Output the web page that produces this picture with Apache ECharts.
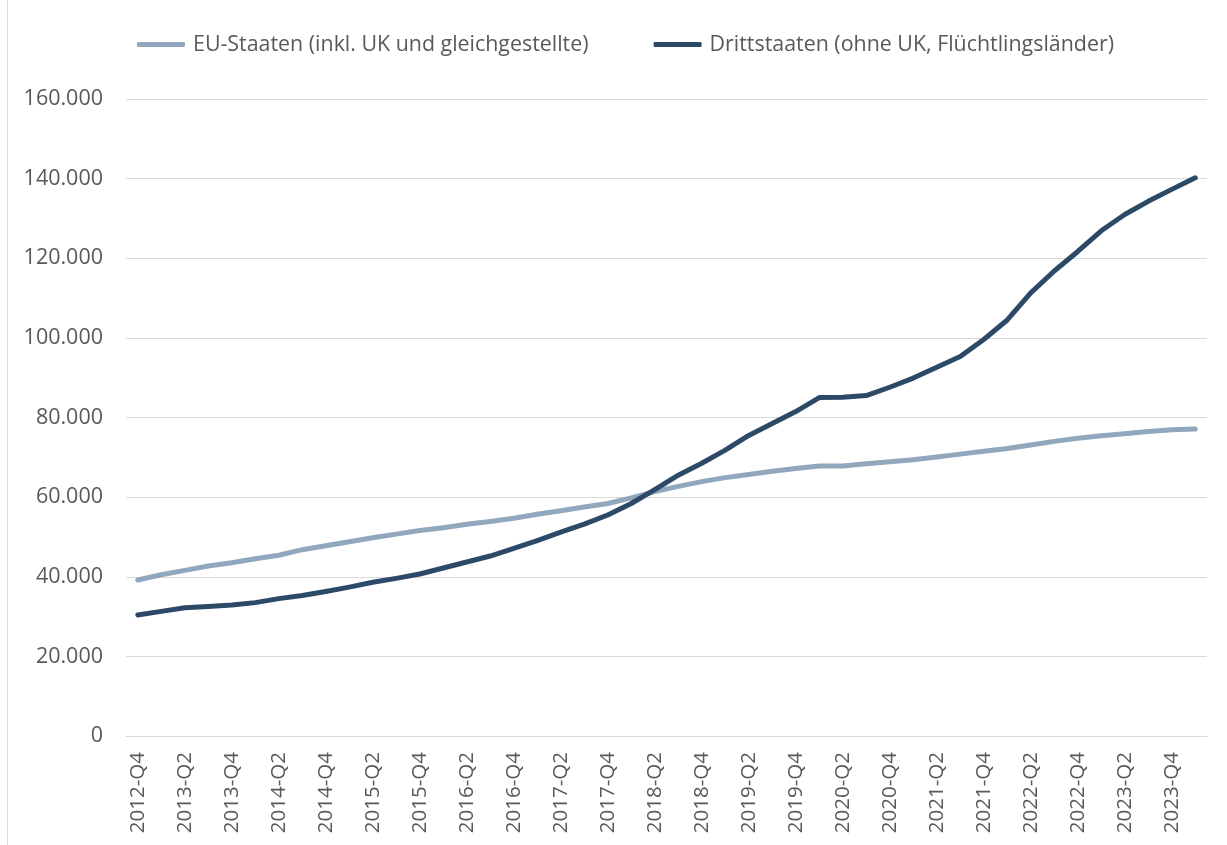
<!DOCTYPE html>
<html>
<head>
<meta charset="utf-8">
<script src="https://cdn.jsdelivr.net/npm/echarts@6/dist/echarts.min.js"></script>
<style>html,body{margin:0;padding:0;background:#fff;}#c{width:1227px;height:845px;}</style>
</head>
<body>
<div id="c"></div>
<script>
const categories = (function(){
  const out = ['2012-Q4'];
  for (let y = 2013; y <= 2023; y++) for (let q = 1; q <= 4; q++) out.push(y + '-Q' + q);
  out.push('2024-Q1');
  return out;
})();
const seriesNames = ['EU-Staaten (inkl. UK und gleichgestellte)', 'Drittstaaten (ohne UK, Flüchtlingsländer)'];
const euValues = [39200,40500,41600,42700,43500,44500,45400,46800,47800,48800,49800,50700,51600,52300,53200,53900,54700,55700,56600,57500,58400,59800,61400,62700,63900,64900,65700,66500,67200,67800,67800,68400,68900,69400,70100,70800,71500,72200,73100,74000,74800,75400,75900,76500,76900,77100];
const drittValues = [30400,31300,32200,32500,32900,33500,34500,35300,36300,37400,38600,39600,40700,42200,43700,45200,47100,49100,51200,53200,55500,58400,61900,65500,68500,71800,75500,78500,81500,85000,85100,85500,87600,89900,92600,95300,99600,104500,111300,116800,121700,126900,131000,134300,137300,140200];
const yTicks = {min: 0, max: 160000, interval: 20000};

const chart = echarts.init(document.getElementById('c'));
const txt = '#595959';
const font = "'Open Sans', 'Noto Sans', sans-serif";
chart.setOption({
  animation: false,
  textStyle: {fontFamily: font},
  graphic: [{type: 'line', shape: {x1: 7.5, y1: 0, x2: 7.5, y2: 845}, style: {stroke: '#d9d9d9', lineWidth: 1}}],
  legend: {
    top: 29, left: 132,
    itemWidth: 48, itemHeight: 5, itemGap: 65,
    icon: 'roundRect',
    textStyle: {color: txt, fontSize: 21.4, fontFamily: font, padding: [0,0,0,3]},
    data: seriesNames
  },
  grid: {left: 126, right: 20, top: 99, bottom: 109, containLabel: false},
  xAxis: {
    type: 'category', data: categories, boundaryGap: true,
    axisLine: {show: true, lineStyle: {color: '#d9d9d9'}},
    axisTick: {show: false},
    axisLabel: {interval: 1, rotate: 90, color: txt, fontSize: 20.5, fontFamily: font, margin: 16}
  },
  yAxis: {
    type: 'value', min: yTicks.min, max: yTicks.max, interval: yTicks.interval,
    axisLine: {show: false}, axisTick: {show: false},
    splitLine: {lineStyle: {color: '#d9d9d9', width: 1}},
    axisLabel: {color: txt, fontSize: 21.5, fontFamily: font, margin: 23,
      formatter: v => String(v).replace(/\B(?=(\d{3})+(?!\d))/g, '.')}
  },
  series: [
    {name: seriesNames[0], type: 'line', data: euValues, showSymbol: false, symbol: 'none',
     lineStyle: {color: '#91a7bd', width: 5, cap: 'round', join: 'round'}, itemStyle: {color: '#91a7bd'}},
    {name: seriesNames[1], type: 'line', data: drittValues, showSymbol: false, symbol: 'none',
     lineStyle: {color: '#2c4a68', width: 5, cap: 'round', join: 'round'}, itemStyle: {color: '#2c4a68'}}
  ]
});
</script>
</body>
</html>
